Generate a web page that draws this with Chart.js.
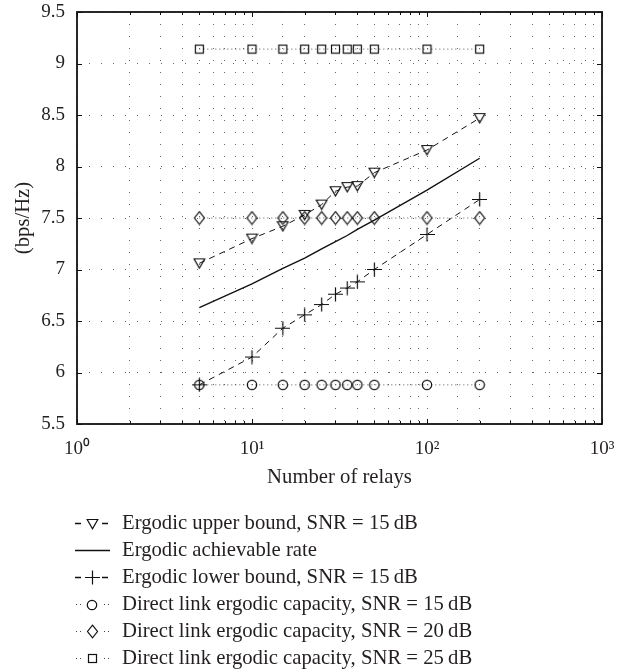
<!DOCTYPE html>
<html><head><meta charset="utf-8">
<script src="https://cdn.jsdelivr.net/npm/chart.js@4/dist/chart.umd.min.js"></script>
<style>
html,body{margin:0;padding:0;background:#fff;}
#wrap{position:relative;width:619px;height:672px;overflow:hidden;}
#c{display:block;}
#legend{position:absolute;left:74px;top:509px;font-family:"Liberation Serif","Times New Roman",serif;font-size:20.7px;color:#231f20;}
.row{display:flex;align-items:center;height:27px;white-space:nowrap;}
.row canvas{width:36px;height:20px;margin-right:12px;flex:none;}
</style></head><body>
<div id="wrap"><canvas id="c" width="619" height="500"></canvas><div id="legend"></div></div>
<script>
// ---- data ----
const relays        = [5, 10, 15, 20, 25, 30, 35, 40, 50, 100, 200];
const upperBound15  = [7.06, 7.30, 7.42, 7.53, 7.63, 7.76, 7.80, 7.81, 7.94, 8.16, 8.47];
const achievable    = [6.63, 6.86, 7.01, 7.11, 7.20, 7.27, 7.33, 7.39, 7.48, 7.77, 8.08];
const lowerBound15  = [5.88, 6.15, 6.43, 6.56, 6.66, 6.76, 6.82, 6.88, 7.00, 7.34, 7.68];
const direct15      = [5.88, 5.88, 5.88, 5.88, 5.88, 5.88, 5.88, 5.88, 5.88, 5.88, 5.88];
const direct20      = [7.50, 7.50, 7.50, 7.50, 7.50, 7.50, 7.50, 7.50, 7.50, 7.50, 7.50];
const direct25      = [9.14, 9.14, 9.14, 9.14, 9.14, 9.14, 9.14, 9.14, 9.14, 9.14, 9.14];
const seriesLabels  = [
  'Ergodic upper bound, SNR = 15\u2009dB',
  'Ergodic achievable rate',
  'Ergodic lower bound, SNR = 15\u2009dB',
  'Direct link ergodic capacity, SNR = 15\u2009dB',
  'Direct link ergodic capacity, SNR = 20\u2009dB',
  'Direct link ergodic capacity, SNR = 25\u2009dB'
];
const xTickLabels = {1: '10\u2070', 10: '10\u00b9', 100: '10\u00b2', 1000: '10\u00b3'};
const yTickLabels = ['5.5', '6', '6.5', '7', '7.5', '8', '8.5', '9', '9.5'];
const xTitle = 'Number of relays';
const yTitle = '(bps/Hz)';

// ---- marker images ----
function mk(w, h, draw) {
  const c = document.createElement('canvas');
  c.width = w; c.height = h;
  const g = c.getContext('2d');
  g.strokeStyle = '#111'; g.lineWidth = 1.2;
  draw(g); return c;
}
const triDown = mk(13, 12, g => { g.beginPath(); g.moveTo(1.2, 1.5); g.lineTo(11.8, 1.5); g.lineTo(6.5, 10.7); g.closePath(); g.stroke(); });
const diamond = mk(13, 15, g => { g.beginPath(); g.moveTo(6.5, 1.2); g.lineTo(11.5, 7.5); g.lineTo(6.5, 13.8); g.lineTo(1.5, 7.5); g.closePath(); g.stroke(); });
const square  = mk(11, 11, g => { g.strokeRect(1.5, 1.5, 8, 8); });
const circle  = mk(12, 12, g => { g.beginPath(); g.arc(6, 6, 4.7, 0, Math.PI * 2); g.stroke(); });
const plus    = mk(15, 15, g => { g.beginPath(); g.moveTo(0, 7.5); g.lineTo(15, 7.5); g.moveTo(7.5, 0.5); g.lineTo(7.5, 14.5); g.stroke(); });

const pts = arr => relays.map((x, i) => ({x, y: arr[i]}));
function ds(label, arr, style) {
  return Object.assign({
    label, data: pts(arr), borderColor: '#111', backgroundColor: 'rgba(0,0,0,0)',
    borderWidth: 1, pointRadius: 5, pointHoverRadius: 5, tension: 0, fill: false
  }, style);
}
const DASH = [6, 5], DOT = [1, 3];
const datasets = [
  ds(seriesLabels[0], upperBound15, {borderDash: DASH, pointStyle: triDown, kind: 'dash'}),
  ds(seriesLabels[1], achievable, {borderWidth: 1.4, pointRadius: 0, kind: 'solid'}),
  ds(seriesLabels[2], lowerBound15, {borderDash: DASH, pointStyle: plus, kind: 'dash'}),
  ds(seriesLabels[3], direct15, {borderDash: DOT, borderColor: '#555', pointStyle: circle, kind: 'dot'}),
  ds(seriesLabels[4], direct20, {borderDash: DOT, borderColor: '#555', pointStyle: diamond, kind: 'dot'}),
  ds(seriesLabels[5], direct25, {borderDash: DOT, borderColor: '#555', pointStyle: square, kind: 'dot'})
];

const FONT = '"Liberation Serif", "Times New Roman", serif';
const TXT = '#231f20';

const frame = {
  id: 'frame',
  afterDraw(chart) {
    const {ctx, chartArea: a, scales: {x, y}} = chart;
    ctx.save();
    ctx.strokeStyle = '#111';
    ctx.lineWidth = 1;
    ctx.beginPath();
    for (let k = 0; k <= 3; k++) {
      for (let m = 1; m <= 9; m++) {
        const v = m * Math.pow(10, k);
        if (v > 1000) break;
        const px = Math.round(x.getPixelForValue(v)) + 0.5;
        const L = m === 1 ? 5 : 3;
        ctx.moveTo(px, a.bottom); ctx.lineTo(px, a.bottom - L);
        ctx.moveTo(px, a.top); ctx.lineTo(px, a.top + L);
      }
    }
    y.ticks.forEach(t => {
      const py = Math.round(y.getPixelForValue(t.value)) + 0.5;
      ctx.moveTo(a.left, py); ctx.lineTo(a.left + 5, py);
      ctx.moveTo(a.right, py); ctx.lineTo(a.right - 5, py);
    });
    ctx.stroke();
    ctx.lineWidth = 1.8;
    ctx.strokeRect(Math.round(a.left), Math.round(a.top), Math.round(a.right - a.left), Math.round(a.bottom - a.top));
    ctx.restore();
  }
};

const chart = new Chart(document.getElementById('c'), {
  type: 'line',
  data: {datasets},
  plugins: [frame],
  options: {
    responsive: false, animation: false, devicePixelRatio: 1,
    layout: {padding: {left: 0, top: 12, right: 17, bottom: 0}},
    plugins: {legend: {display: false}, tooltip: {enabled: false}},
    scales: {
      x: {
        type: 'logarithmic', min: 1, max: 1000,
        afterFit: s => { s.height = 76; s.paddingLeft = 0; s.paddingRight = 0; },
        grid: {color: '#666', lineWidth: 1, drawTicks: false},
        border: {display: false, dash: [1, 11]},
        ticks: {
          autoSkip: false, maxRotation: 0, minRotation: 0, padding: 14,
          color: TXT, font: {family: FONT, size: 19},
          callback: v => xTickLabels[v] ?? ''
        },
        title: {display: true, text: xTitle, color: TXT, font: {family: FONT, size: 20.7}, padding: {top: 0, bottom: 10}}
      },
      y: {
        type: 'linear', min: 5.5, max: 9.5,
        afterFit: s => { s.width = 77; s.paddingTop = 0; s.paddingBottom = 0; },
        grid: {color: '#666', lineWidth: 1, drawTicks: false},
        border: {display: false, dash: [1, 11]},
        ticks: {
          stepSize: 0.5, padding: 12, color: TXT, font: {family: FONT, size: 19},
          callback: (v, i) => yTickLabels[i]
        },
        title: {display: true, text: yTitle, color: TXT, font: {family: FONT, size: 20.7}, padding: {top: 11, bottom: 0}}
      }
    }
  }
});

// ---- HTML legend from the chart's datasets ----
const legend = document.getElementById('legend');
chart.data.datasets.forEach(d => {
  const row = document.createElement('div'); row.className = 'row';
  const c = document.createElement('canvas'); c.width = 36; c.height = 20;
  const g = c.getContext('2d');
  g.strokeStyle = '#111'; g.lineWidth = d.kind === 'solid' ? 1.4 : 1.3;
  g.beginPath();
  if (d.kind === 'solid') { g.moveTo(1, 10.5); g.lineTo(36, 10.5); }
  else if (d.kind === 'dash') { g.moveTo(1, 10.5); g.lineTo(7, 10.5); g.moveTo(28, 10.5); g.lineTo(34, 10.5); }
  g.stroke();
  if (d.kind === 'dot') {
    g.fillStyle = '#444';
    [2, 6, 30, 34].forEach(px => g.fillRect(px, 10, 1, 1));
  }
  if (d.pointStyle && typeof d.pointStyle !== 'string') {
    const p = d.pointStyle;
    g.drawImage(p, Math.round(18 - p.width / 2), Math.round(10.5 - p.height / 2));
  }
  const t = document.createElement('span'); t.textContent = d.label;
  row.appendChild(c); row.appendChild(t); legend.appendChild(row);
});
</script>
</body></html>
